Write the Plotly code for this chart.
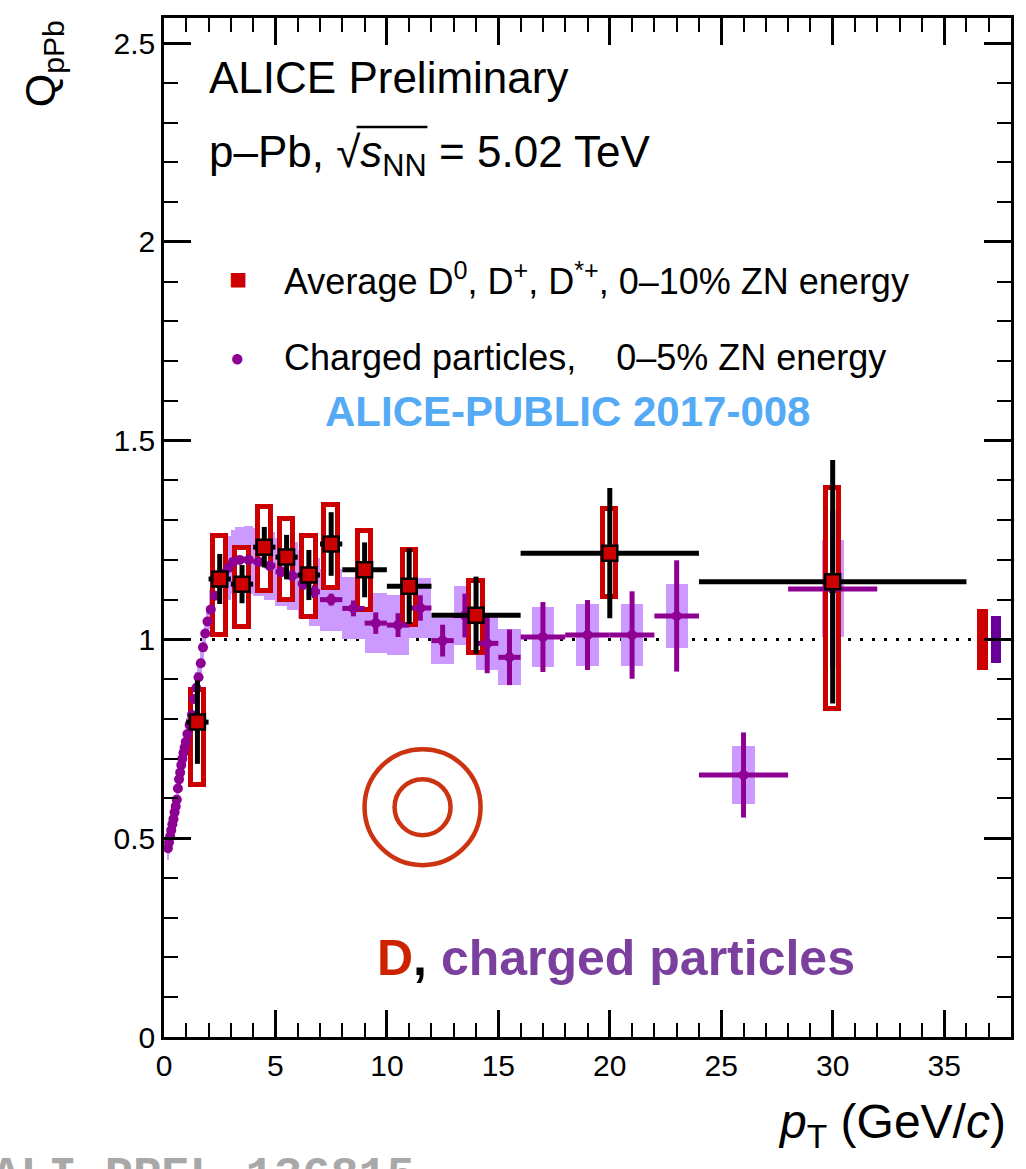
import plotly.graph_objects as go

# ---------------- data ----------------
# D mesons (average D0, D+, D*+), 0-10% ZN energy
d_pt = [1.5, 2.5, 3.5, 4.5, 5.5, 6.5, 7.5, 9.0, 11.0, 14.0, 20.0, 30.0]
d_xerr = [0.5, 0.5, 0.5, 0.5, 0.5, 0.5, 0.5, 1.0, 1.0, 2.0, 4.0, 6.0]
d_val = [0.792, 1.152, 1.139, 1.232, 1.207, 1.162, 1.240, 1.175, 1.134, 1.061, 1.217, 1.145]
d_stat = [0.105, 0.063, 0.048, 0.051, 0.056, 0.063, 0.080, 0.069, 0.095, 0.097, 0.164, 0.306]
d_syst_hi = [0.082, 0.107, 0.090, 0.100, 0.097, 0.097, 0.097, 0.097, 0.092, 0.087, 0.110, 0.237]
d_syst_lo = [0.157, 0.140, 0.109, 0.109, 0.107, 0.105, 0.110, 0.100, 0.097, 0.094, 0.111, 0.321]
d_norm = 0.077

# Charged particles, 0-5% ZN energy
h_pt = [0.175, 0.225, 0.275, 0.325, 0.375, 0.425, 0.475, 0.525, 0.575, 0.625,
        0.675, 0.725, 0.775, 0.825, 0.875, 0.925, 0.975,
        1.05, 1.15, 1.25, 1.35, 1.45, 1.55, 1.65, 1.75, 1.85, 1.95,
        2.1, 2.3, 2.5, 2.7, 2.9, 3.1, 3.4, 3.8, 4.25, 4.75, 5.25, 5.75, 6.25, 6.75,
        7.5, 8.5, 9.5, 10.5, 11.5, 12.5, 13.5, 14.5, 15.5, 17.0, 19.0, 21.0, 23.0, 26.0, 30.0]
h_xerr = [0.025] * 17 + [0.05] * 10 + [0.1] * 6 + [0.2, 0.2] + [0.25] * 6 + [0.5] * 9 + [1.0] * 4 + [2.0, 2.0]
h_val = [0.475, 0.490, 0.505, 0.520, 0.535, 0.548, 0.565, 0.580, 0.597, 0.625,
         0.648, 0.665, 0.684, 0.700, 0.715, 0.728, 0.742,
         0.762, 0.785, 0.810, 0.850, 0.878, 0.905, 0.940, 0.980, 1.015, 1.045,
         1.075, 1.110, 1.140, 1.165, 1.180, 1.195, 1.200, 1.200, 1.195, 1.185, 1.170, 1.160, 1.140, 1.120,
         1.100, 1.078, 1.041, 1.036, 1.079, 0.997, 1.060, 0.990, 0.955, 1.006, 1.011, 1.011, 1.059, 0.659, 1.127]
h_stat = [0.004] * 27 + [0.006, 0.006, 0.007, 0.008, 0.008, 0.009, 0.009, 0.010, 0.011, 0.012, 0.013, 0.014, 0.015, 0.016,
          0.015, 0.020, 0.027, 0.030, 0.032, 0.040, 0.055, 0.075, 0.070, 0.088, 0.088, 0.110, 0.140, 0.107, 0.200]
h_syst = [0.030] * 17 + [0.040] * 10 + [0.050, 0.055, 0.060, 0.075, 0.080, 0.080, 0.082, 0.085, 0.085, 0.085, 0.085,
          0.085, 0.085, 0.085, 0.078, 0.078, 0.075, 0.075, 0.075, 0.058, 0.075, 0.066, 0.070,
          0.075, 0.078, 0.078, 0.080, 0.073, 0.122]
h_norm = 0.060

# ---------------- colours ----------------
RED = "#cc0000"
PURPLE = "#8e0092"
LILAC = "#cc99ff"
DPURPLE = "#660099"
FONT = "Liberation Sans, Arial, Helvetica, sans-serif"

fig = go.Figure()

# charged-particle systematic boxes
h_boxw = [min(2 * w, 1.0) for w in h_xerr]
fig.add_trace(go.Bar(
    x=h_pt, y=[2 * s for s in h_syst], base=[v - s for v, s in zip(h_val, h_syst)],
    width=h_boxw, marker=dict(color=LILAC, line=dict(width=0)), hoverinfo="skip"))

# D-meson systematic boxes
fig.add_trace(go.Bar(
    x=d_pt, y=[h + l for h, l in zip(d_syst_hi, d_syst_lo)],
    base=[v - l for v, l in zip(d_val, d_syst_lo)],
    width=0.6, marker=dict(color="white", line=dict(color=RED, width=5)), hoverinfo="skip"))

# normalisation uncertainty boxes near unity
fig.add_trace(go.Bar(x=[36.72], y=[2 * d_norm], base=[1 - d_norm], width=0.52,
                     marker=dict(color=RED, line=dict(width=0)), hoverinfo="skip"))
fig.add_trace(go.Bar(x=[37.33], y=[2 * h_norm], base=[1 - h_norm], width=0.48,
                     marker=dict(color=DPURPLE, line=dict(width=0)), hoverinfo="skip"))

# charged particles
fig.add_trace(go.Scatter(
    x=h_pt, y=h_val, mode="markers",
    marker=dict(symbol="circle", size=10, color=PURPLE, line=dict(width=0)),
    error_y=dict(type="data", array=h_stat, color=PURPLE, thickness=5, width=0),
    error_x=dict(type="data", array=h_xerr, color=PURPLE, thickness=5, width=0)))

# D mesons
fig.add_trace(go.Scatter(
    x=d_pt, y=d_val, mode="markers",
    marker=dict(symbol="square", size=15, color=RED, line=dict(color="black", width=2.5)),
    error_y=dict(type="data", array=d_stat, color="black", thickness=5, width=0),
    error_x=dict(type="data", array=d_xerr, color="black", thickness=5, width=0)))

# dotted line at unity
fig.add_shape(type="line", xref="x", yref="y", x0=0, x1=38, y0=1, y1=1,
              line=dict(color="black", width=3, dash="3px,9px"), layer="below")

# highlight circles
for r in (58, 28):
    fig.add_shape(type="circle", xref="x", yref="y", xsizemode="pixel", ysizemode="pixel",
                  xanchor=11.6, yanchor=0.578, x0=-r, x1=r, y0=-r, y1=r,
                  line=dict(color="#cc3311", width=4.5))

# overline of the square root
fig.add_shape(type="line", xref="paper", yref="paper", x0=0.2273, x1=0.311, y0=0.893, y1=0.893,
              line=dict(color="black", width=2.5))

ann = []
def A(text, x, y, size, color="black", xanchor="left", yanchor="middle", angle=0, family=FONT):
    ann.append(dict(text=text, x=x, y=y, xref="paper", yref="paper", showarrow=False,
                    xanchor=xanchor, yanchor=yanchor, textangle=angle,
                    font=dict(size=size, color=color, family=family)))

A("ALICE Preliminary", 0.0506, 0.942, 44)
A("p–Pb, √<i>s</i><sub>NN</sub> = 5.02 TeV", 0.0506, 0.8656, 44)
A("■", 0.0872, 0.7439, 30, color=RED, xanchor="center")
A("Average D<sup>0</sup>, D<sup>+</sup>, D<sup>*+</sup>, 0–10% ZN energy", 0.139, 0.7439, 36)
A("●", 0.0872, 0.6673, 24, color=PURPLE, xanchor="center")
A("Charged particles,\u00a0\u00a0\u00a0\u00a00–5% ZN energy", 0.139, 0.6673, 36)
A("<b>ALICE-PUBLIC 2017-008</b>", 0.4759, 0.6143, 42, color="#55aaf5", xanchor="center")
A("<b><span style='color:#cc2200'>D</span>, <span style='color:#7b3f9e'>charged particles</span></b>",
  0.5336, 0.0777, 50, xanchor="center")
A("Q<sub>pPb</sub>", -0.1425, 0.955, 43, xanchor="center", angle=-90)
A("<i>p</i><sub>T</sub> (GeV/<i>c</i>)", 0.9965, -0.0864, 48, xanchor="right")
A("<b>ALI-PREL-136815</b>", -0.205, -0.109, 47, color="#a8a8a8", yanchor="top",
  family="Liberation Mono, Courier New, monospace")

axis_common = dict(showgrid=False, zeroline=False, showline=True, linecolor="black", linewidth=2.5,
                   ticks="inside", tickcolor="black", tickwidth=2.5, mirror="allticks",
                   tickfont=dict(size=30, family=FONT, color="black"))

fig.update_layout(
    width=1026, height=1169,
    margin=dict(l=164, r=13, t=18, b=132),
    paper_bgcolor="white", plot_bgcolor="white",
    showlegend=False, barmode="overlay", bargap=0,
    annotations=ann,
    xaxis=dict(range=[0, 38], tick0=0, dtick=5, ticklen=27,
               minor=dict(ticks="inside", dtick=1, ticklen=14, tickwidth=2, tickcolor="black"),
               **axis_common),
    yaxis=dict(range=[0, 2.563], tick0=0, dtick=0.5, ticklen=27,
               minor=dict(ticks="inside", dtick=0.1, ticklen=14, tickwidth=2, tickcolor="black"),
               **axis_common),
)

fig.write_html("out.html")
